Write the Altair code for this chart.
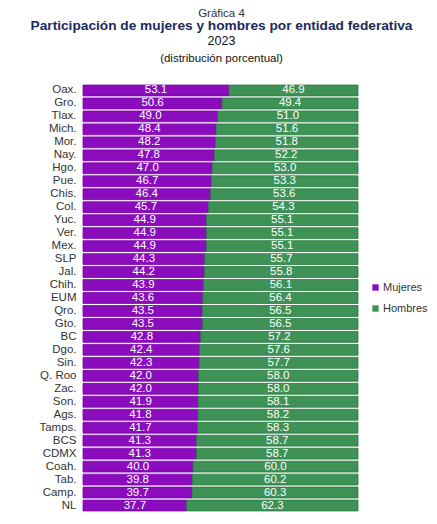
import altair as alt
import pandas as pd

entidades = ["Oax.", "Gro.", "Tlax.", "Mich.", "Mor.", "Nay.", "Hgo.", "Pue.", "Chis.", "Col.",
             "Yuc.", "Ver.", "Mex.", "SLP", "Jal.", "Chih.", "EUM", "Qro.", "Gto.", "BC",
             "Dgo.", "Sin.", "Q. Roo", "Zac.", "Son.", "Ags.", "Tamps.", "BCS", "CDMX", "Coah.",
             "Tab.", "Camp.", "NL"]
mujeres = [53.1, 50.6, 49.0, 48.4, 48.2, 47.8, 47.0, 46.7, 46.4, 45.7,
           44.9, 44.9, 44.9, 44.3, 44.2, 43.9, 43.6, 43.5, 43.5, 42.8,
           42.4, 42.3, 42.0, 42.0, 41.9, 41.8, 41.7, 41.3, 41.3, 40.0,
           39.8, 39.7, 37.7]
hombres = [46.9, 49.4, 51.0, 51.6, 51.8, 52.2, 53.0, 53.3, 53.6, 54.3,
           55.1, 55.1, 55.1, 55.7, 55.8, 56.1, 56.4, 56.5, 56.5, 57.2,
           57.6, 57.7, 58.0, 58.0, 58.1, 58.2, 58.3, 58.7, 58.7, 60.0,
           60.2, 60.3, 62.3]
series = ["Mujeres", "Hombres"]
colores = ["#8a0cbc", "#3e9256"]
bordes = ["#7a00aa", "#2a7a40"]
encabezado = ["Gráfica 4", "Participación de mujeres y hombres por entidad federativa",
              "2023", "(distribución porcentual)"]

rows = []
for i, e in enumerate(entidades):
    rows.append({"entidad": e, "sexo": "Mujeres", "orden": 0, "valor": mujeres[i]})
    rows.append({"entidad": e, "sexo": "Hombres", "orden": 1, "valor": hombres[i]})
df = pd.DataFrame(rows)

W, H = 275, 428
FONT = "Liberation Sans"

base = alt.Chart(df).transform_stack(
    stack="valor", groupby=["entidad"], as_=["x0", "x1"], sort=[alt.SortField("orden")]
).transform_calculate(mid="(datum.x0 + datum.x1) / 2")

yenc = alt.Y("entidad:N", sort=entidades, title=None,
             scale=alt.Scale(paddingInner=0.16, paddingOuter=0.08),
             axis=alt.Axis(ticks=False, domain=False, labelFontSize=11.5, labelColor="#333333",
                           labelPadding=7, labelFont=FONT))

bars = base.mark_bar(strokeWidth=0.8).encode(
    x=alt.X("x0:Q", scale=alt.Scale(domain=[0, 100]), axis=None),
    x2="x1:Q",
    y=yenc,
    color=alt.Color("sexo:N", scale=alt.Scale(domain=series, range=colores), sort=series,
                    legend=alt.Legend(title=None, orient="none", legendX=287, legendY=198,
                                      symbolType="square", symbolSize=40, labelFontSize=11,
                                      labelFont=FONT, labelColor="#333333", rowPadding=9,
                                      labelOffset=2, symbolStrokeWidth=0)),
    stroke=alt.Stroke("sexo:N", scale=alt.Scale(domain=series, range=bordes), legend=None),
)

labels = base.mark_text(color="white", fontSize=11.5, font=FONT, baseline="middle").encode(
    x=alt.X("mid:Q", scale=alt.Scale(domain=[0, 100])),
    y=alt.Y("entidad:N", sort=entidades),
    text=alt.Text("valor:Q", format=".1f"),
)

hdf = pd.DataFrame({"t": encabezado, "k": [0, 1, 2, 3]})

def head(k, dy, size, weight, color):
    return alt.Chart(hdf).transform_filter(f"datum.k == {k}").mark_text(
        font=FONT, align="center", baseline="alphabetic", fontSize=size,
        fontWeight=weight, color=color
    ).encode(text="t:N", x=alt.value(W / 2 + 1), y=alt.value(dy))

h0 = head(0, -67, 11.5, "normal", "#333333")
h1 = head(1, -54, 13.7, "bold", "#1c2a5c")
h2 = head(2, -39, 12.5, "normal", "#111111")
h3 = head(3, -22, 11.5, "normal", "#111111")

chart = alt.layer(bars, labels, h0, h1, h2, h3).properties(
    width=W, height=H,
    padding={"left": 75, "top": 76, "right": 71, "bottom": 0},
    autosize=alt.AutoSizeParams(type="none"),
).configure_view(stroke=None)

chart.save("out.html", embed_options={"renderer": "svg", "actions": False})
